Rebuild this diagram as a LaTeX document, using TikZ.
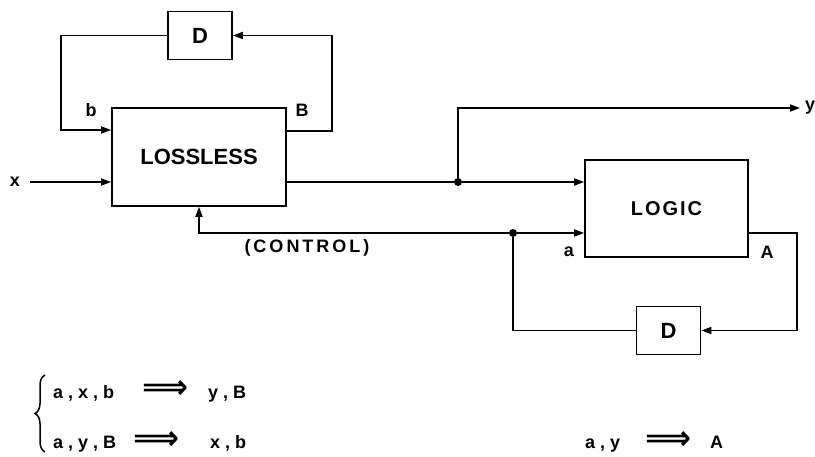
\documentclass[tikz,border=0pt]{standalone}
\usepackage{fontspec}
\setmainfont{Liberation Sans}
\newfontfamily\symfont{DejaVu Sans}
\usepackage{graphicx}
\usetikzlibrary{arrows.meta, positioning, calc, decorations.pathreplacing}

\newcommand{\impl}{\resizebox{46pt}{18pt}{\symfont ⟹}}
\newcommand{\cm}{\hspace{5pt},\hspace{5pt}}

\begin{document}
\begin{tikzpicture}[
    x=1pt, y=-1pt,
    block/.style={rectangle, draw, line width=1.7pt, align=center, font=\fontsize{22}{26}\selectfont\bfseries},
    delay/.style={block, minimum width=64pt, minimum height=48pt},
    lbl/.style={font=\fontsize{18}{20}\selectfont\bfseries, inner sep=0pt},
    eqn/.style={font=\fontsize{18}{22}\selectfont\bfseries, anchor=base west, inner sep=0pt},
    arrow/.style={-{Triangle[length=10pt, width=7pt]}, line width=1.7pt},
    wire/.style={line width=1.7pt},
    dot/.style={circle, fill, inner sep=0pt, minimum size=8pt},
]
\useasboundingbox (0,0) rectangle (815,457);

% blocks
\node[block, minimum width=174pt, minimum height=98pt] (lossless) at (199,157) {LOSSLESS};
\node[delay] (dtop) at (200,35.5) {D};
\node[block, minimum width=163pt, minimum height=97pt, font=\fontsize{20}{24}\selectfont\bfseries] (logic) at (666.5,208.5) {L\hspace{2pt}O\hspace{2pt}G\hspace{2pt}I\hspace{2pt}C};
\node[delay] (dbot) at (668.5,330.5) {D};

% junctions and ports
\node[dot] (jy) at (458,182) {};
\node[dot] (ja) at (513,233) {};
\node[lbl] (xin) at (15,182) {x};
\node[lbl] (yout) at (810,108) {y};
\coordinate (yend) at (800,108);
\coordinate (bcorner) at (61,130);
\coordinate (Bcorner) at (332,131);
\coordinate (Acorner) at (797,233);

% lossless loop
\draw[arrow, shorten <=10pt] (xin) -- (xin -| lossless.west);
\draw[arrow] (dtop.west) -| (bcorner) -- (bcorner -| lossless.west);
\draw[arrow] (Bcorner -| lossless.east) -- (Bcorner) |- (dtop.east);

% output and control
\draw[wire] (jy -| lossless.east) -- (jy);
\draw[arrow] (jy) -- (jy -| logic.west);
\draw[arrow] (jy) |- (yend);
\draw[arrow] (ja) -- (ja -| logic.west);
\draw[arrow] (ja) -| (lossless.south);

% logic loop
\draw[arrow] (Acorner -| logic.east) -- (Acorner) |- (dbot.east);
\draw[wire] (dbot.west) -| (ja);

\node[lbl] (blbl) at (91,110) {b};
\node[lbl] (Blbl) at (302,110) {B};
\node[lbl] (albl) at (569,252) {a};
\node[lbl] (Albl) at (767,252) {A};
\node[lbl] (ctrl) at (307,248) {(\,C\,O\,N\,T\,R\,O\,L\,)};

% relations
\coordinate (bracebot) at (45,452);
\coordinate (bracetop) at (45,375);
\draw[line width=1.5pt, decorate, decoration={brace, amplitude=10pt}] (bracebot) -- (bracetop);
\node[eqn] (r1l) at (53,399) {a\cm x\cm b};
\node[eqn] (r1m) at (142,399) {\impl};
\node[eqn] (r1r) at (208,399) {y\cm B};
\node[eqn] (r2l) at (53,449) {a\cm y\cm B};
\node[eqn] (r2m) at (133,449) {\impl};
\node[eqn] (r2r) at (210,449) {x\cm b};
\node[eqn] (r3l) at (585,449) {a\cm y};
\node[eqn] (r3m) at (645,449) {\impl};
\node[eqn] (r3r) at (710,449) {A};

\end{tikzpicture}
\end{document}
